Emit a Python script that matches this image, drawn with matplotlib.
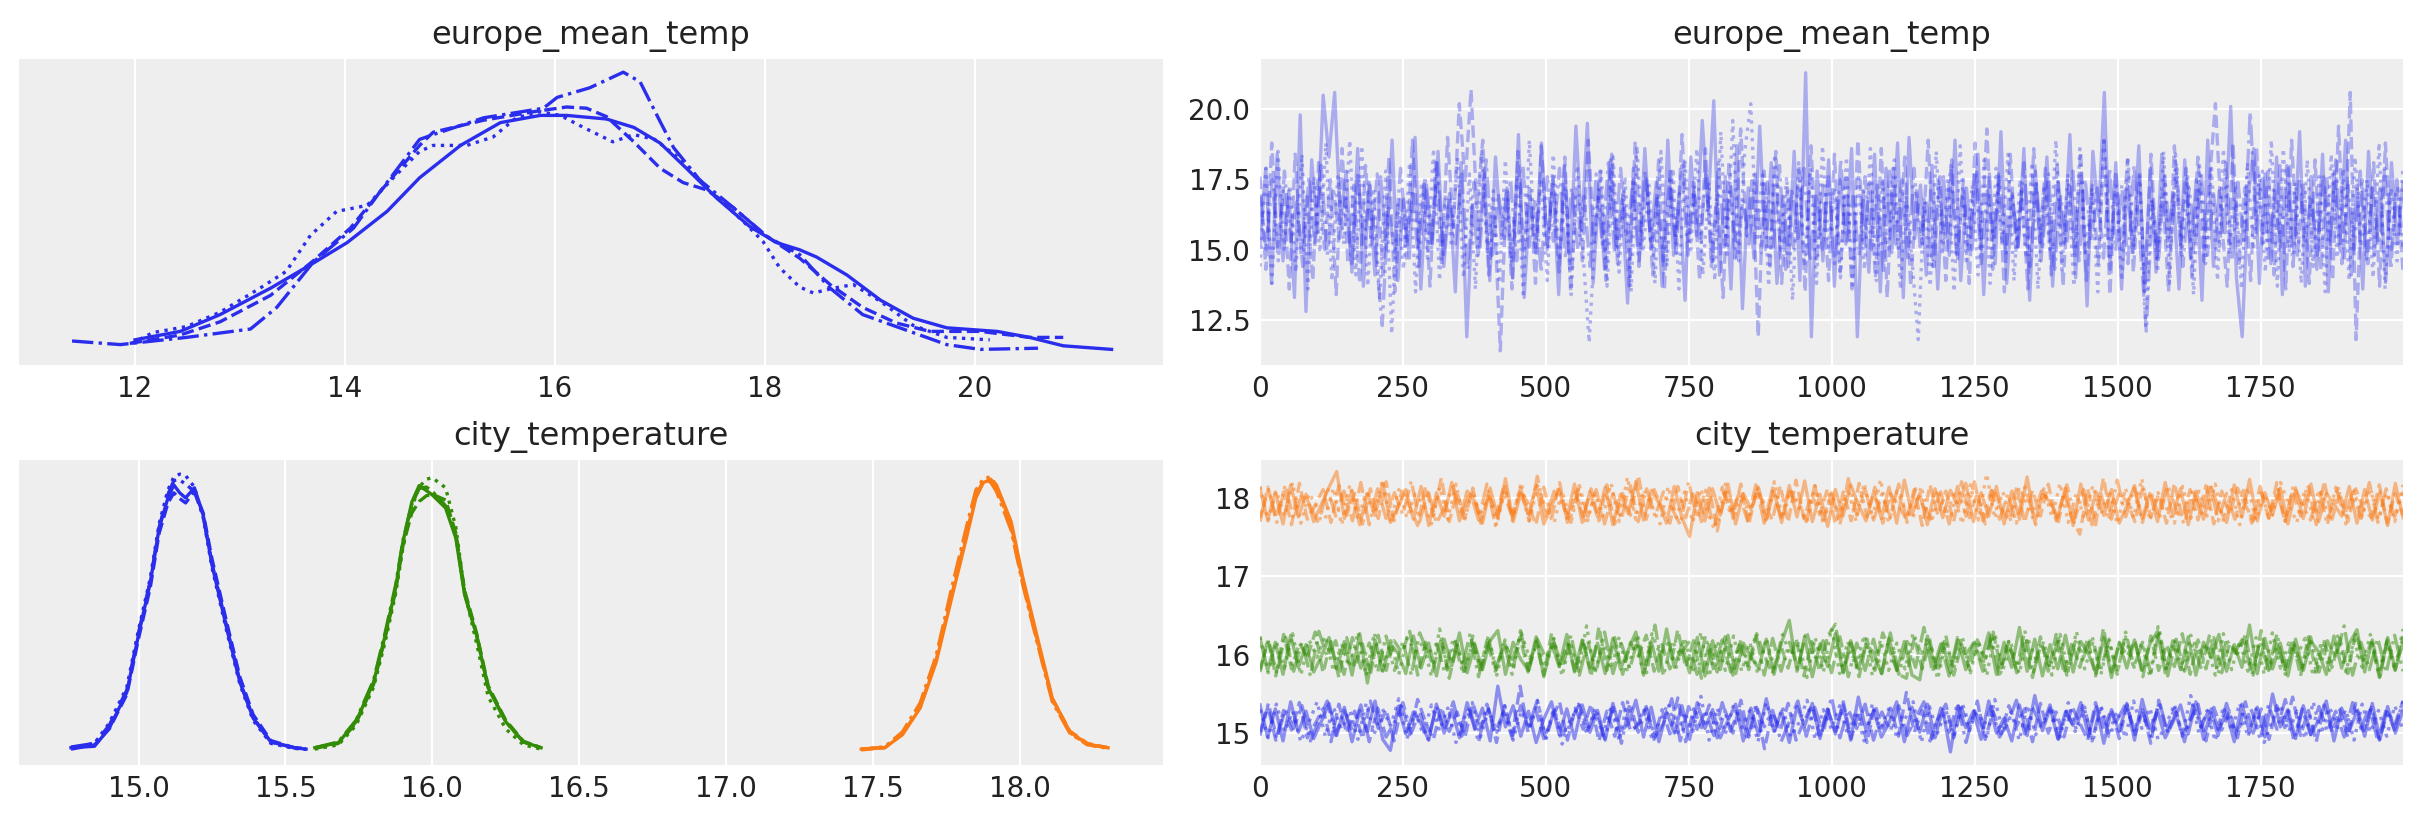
import numpy as np
import matplotlib
matplotlib.use("Agg")
import matplotlib.pyplot as plt

# ---------------- data ----------------
var_titles = ["europe_mean_temp", "city_temperature"]
chain_styles = ["-", "--", ":", "-."]
city_colors = ["#2a2eec", "#fa7c17", "#328c06"]   # city 0 / 1 / 2
eu_color = "#2a2eec"

# europe_mean_temp KDE per chain (value, density)
eu_kde_x0 = [12.0, 12.43, 12.81, 13.29, 13.70, 14.02, 14.40, 14.71, 15.10, 15.48, 15.86, 16.11, 16.49, 16.75, 17.0,
             17.25, 17.54, 17.86, 18.11, 18.33, 18.49, 18.78, 19.10, 19.41, 19.73, 20.21, 20.52, 20.84, 21.30]
eu_kde_y0 = [0.021, 0.028, 0.042, 0.064, 0.085, 0.102, 0.128, 0.156, 0.183, 0.202, 0.208, 0.208, 0.205, 0.198, 0.185,
             0.164, 0.139, 0.115, 0.102, 0.096, 0.090, 0.075, 0.054, 0.039, 0.031, 0.028, 0.023, 0.016, 0.013]
eu_kde_x1 = [11.95, 12.43, 12.81, 13.29, 13.70, 14.05, 14.33, 14.71, 14.84, 15.32, 15.79, 16.11, 16.30, 16.49, 16.75,
             17.0, 17.22, 17.44, 17.70, 18.02, 18.33, 18.62, 18.93, 19.25, 19.57, 20.05, 20.52, 20.84]
eu_kde_y1 = [0.018, 0.025, 0.036, 0.058, 0.087, 0.114, 0.144, 0.183, 0.194, 0.204, 0.211, 0.215, 0.214, 0.207, 0.186,
             0.164, 0.152, 0.146, 0.131, 0.107, 0.089, 0.067, 0.048, 0.035, 0.028, 0.028, 0.023, 0.023]
eu_kde_x2 = [11.97, 12.17, 12.49, 12.81, 13.19, 13.44, 13.67, 13.92, 14.21, 14.46, 14.71, 14.84, 15.16, 15.41, 15.63,
             15.86, 16.05, 16.27, 16.55, 16.75, 16.95, 17.2, 17.5, 17.8, 17.98, 18.14, 18.33, 18.46, 18.65, 18.84,
             19.1, 19.41, 19.73, 20.14]
eu_kde_y2 = [0.018, 0.027, 0.032, 0.044, 0.064, 0.078, 0.108, 0.128, 0.133, 0.156, 0.178, 0.183, 0.183, 0.190, 0.206,
             0.211, 0.208, 0.198, 0.186, 0.192, 0.188, 0.171, 0.143, 0.119, 0.103, 0.081, 0.065, 0.060, 0.064, 0.067,
             0.053, 0.033, 0.023, 0.021]
eu_kde_x3 = [11.40, 11.86, 12.49, 13.10, 13.35, 13.70, 14.08, 14.33, 14.71, 14.84, 15.32, 15.89, 16.02, 16.33, 16.65,
             16.81, 17.0, 17.13, 17.38, 17.70, 18.02, 18.33, 18.62, 18.93, 19.41, 19.73, 20.05, 20.60]
eu_kde_y3 = [0.020, 0.017, 0.023, 0.030, 0.048, 0.086, 0.114, 0.144, 0.188, 0.192, 0.206, 0.214, 0.223, 0.231, 0.244,
             0.236, 0.203, 0.181, 0.154, 0.131, 0.107, 0.092, 0.064, 0.042, 0.027, 0.017, 0.013, 0.014]

# city_temperature KDEs (value grid per city, density per chain)
city0_kde_x = [14.77, 14.85, 14.90, 14.96, 15.00, 15.04, 15.07, 15.10, 15.12, 15.14, 15.16, 15.19, 15.22, 15.25, 15.30,
               15.345, 15.39, 15.45, 15.53, 15.57]
city0_kde_c0 = [0.24, 0.26, 0.51, 1.01, 1.81, 2.54, 3.29, 3.71, 3.89, 3.78, 3.71, 3.85, 3.47, 2.78, 1.90, 1.15, 0.65, 0.32, 0.24, 0.22]
city0_kde_c1 = [0.22, 0.28, 0.50, 0.98, 1.76, 2.47, 3.22, 3.64, 3.78, 3.70, 3.64, 3.80, 3.50, 2.86, 1.98, 1.22, 0.70, 0.34, 0.24, 0.22]
city0_kde_c2 = [0.24, 0.30, 0.58, 1.08, 1.88, 2.60, 3.35, 3.82, 4.00, 4.04, 4.02, 3.86, 3.44, 2.74, 1.86, 1.12, 0.62, 0.30, 0.23, 0.22]
city0_kde_c3 = [0.25, 0.30, 0.55, 1.04, 1.84, 2.56, 3.30, 3.76, 3.95, 3.96, 3.90, 3.80, 3.45, 2.80, 1.92, 1.16, 0.66, 0.32, 0.24, 0.23]

city1_kde_x = [17.46, 17.54, 17.60, 17.66, 17.715, 17.77, 17.82, 17.85, 17.875, 17.90, 17.92, 17.97, 18.01, 18.06, 18.11,
               18.17, 18.23, 18.30]
city1_kde_c0 = [0.22, 0.24, 0.42, 0.79, 1.43, 2.36, 3.19, 3.71, 3.92, 3.97, 3.89, 3.38, 2.60, 1.76, 0.93, 0.46, 0.29, 0.24]
city1_kde_c1 = [0.21, 0.24, 0.43, 0.80, 1.46, 2.40, 3.25, 3.75, 3.94, 3.96, 3.86, 3.34, 2.55, 1.72, 0.92, 0.47, 0.30, 0.24]
city1_kde_c2 = [0.22, 0.25, 0.45, 0.84, 1.50, 2.45, 3.28, 3.78, 3.98, 4.00, 3.88, 3.30, 2.52, 1.70, 0.90, 0.45, 0.28, 0.23]
city1_kde_c3 = [0.22, 0.25, 0.46, 0.86, 1.52, 2.50, 3.34, 3.82, 3.96, 3.93, 3.80, 3.26, 2.50, 1.68, 0.88, 0.44, 0.28, 0.24]

city2_kde_x = [15.60, 15.68, 15.74, 15.80, 15.84, 15.875, 15.90, 15.93, 15.955, 15.98, 16.00, 16.045, 16.08, 16.11, 16.15,
               16.19, 16.25, 16.31, 16.37]
city2_kde_c0 = [0.24, 0.31, 0.60, 1.15, 1.81, 2.46, 3.10, 3.65, 3.88, 3.81, 3.75, 3.57, 3.15, 2.36, 1.81, 1.07, 0.60, 0.32, 0.24]
city2_kde_c1 = [0.23, 0.30, 0.58, 1.12, 1.78, 2.42, 3.05, 3.50, 3.66, 3.74, 3.76, 3.68, 3.22, 2.42, 1.84, 1.10, 0.62, 0.33, 0.24]
city2_kde_c2 = [0.22, 0.28, 0.55, 1.08, 1.72, 2.38, 3.02, 3.58, 3.86, 3.97, 3.99, 3.85, 3.30, 2.40, 1.70, 0.95, 0.50, 0.28, 0.22]
city2_kde_c3 = [0.24, 0.32, 0.62, 1.18, 1.85, 2.50, 3.12, 3.62, 3.84, 3.86, 3.80, 3.60, 3.18, 2.38, 1.82, 1.08, 0.60, 0.32, 0.24]

# europe_mean_temp traces (thinned draws: local highs / lows, 4 chains)
eu_trace_c0 = [
    15.2, 17.9, 13.8, 18.4, 14.6, 17.1, 13.3, 19.8, 12.8, 18.2, 15.6, 20.5, 18.3, 20.6, 15.9, 17.8, 14.2, 18.6, 13.7, 17.4,
    14.1, 17.6, 15.0, 18.9, 13.9, 16.8, 14.7, 19.0, 13.6, 17.3, 15.2, 18.5, 14.4, 17.0, 13.5, 18.1, 11.9, 16.6, 14.8, 17.7,
    13.9, 18.3, 15.4, 17.2, 14.0, 19.1, 13.3, 16.9, 14.9, 18.8, 15.1, 17.5, 13.4, 18.0, 14.5, 19.4, 15.7, 19.5, 13.8, 17.1,
    14.3, 18.2, 15.0, 16.8, 13.1, 17.9, 14.6, 18.6, 15.3, 17.4, 13.7, 18.9, 14.8, 17.0, 13.2, 18.3, 15.5, 19.6, 16.4, 20.3,
    14.1, 17.6, 13.6, 18.7, 12.9, 17.2, 14.7, 19.4, 15.0, 18.1, 13.8, 16.9, 14.4, 18.5, 13.9, 21.3, 11.9, 17.8, 14.6, 18.2,
    13.7, 17.5, 15.2, 18.6, 11.9, 17.1, 14.2, 18.4, 13.5, 17.9, 14.9, 18.8, 13.3, 19.0, 15.4, 17.3, 14.1, 18.0, 13.6, 17.6,
    14.8, 18.9, 13.9, 17.2, 15.0, 18.4, 13.4, 17.7, 14.5, 19.2, 13.8, 16.9, 15.1, 18.6, 13.2, 17.8, 14.6, 18.3, 13.7, 17.4,
    15.2, 19.1, 14.0, 17.6, 13.0, 18.5, 16.2, 20.6, 14.3, 18.1, 13.6, 17.3, 14.9, 18.7, 13.5, 17.9, 14.2, 18.4, 15.3, 17.0,
    13.6, 18.2, 14.7, 17.5, 13.2, 18.9, 14.4, 17.1, 15.6, 20.1, 14.0, 11.9, 16.8, 18.6, 13.8, 17.7, 14.5, 18.3, 13.4, 17.9,
    14.9, 19.2, 13.7, 17.6, 14.3, 18.4, 13.5, 17.8, 15.0, 18.9, 14.1, 17.3, 13.6, 18.5, 14.8, 17.2, 13.9, 18.1, 15.2, 17.4]
eu_trace_c1 = [
    17.6, 14.3, 18.8, 15.1, 17.2, 13.6, 18.4, 14.8, 16.9, 13.9, 18.1, 15.0, 17.5, 13.4, 18.6, 14.5, 17.3, 13.8, 18.0, 15.2,
    17.7, 14.0, 18.3, 13.5, 16.9, 14.7, 18.9, 15.1, 17.4, 13.7, 18.2, 14.4, 19.0, 15.8, 20.2, 17.4, 20.7, 16.5, 18.9, 14.1,
    16.2, 11.4, 17.0, 13.6, 18.5, 14.9, 17.3, 13.8, 18.7, 15.0, 17.6, 14.2, 18.3, 13.5, 17.1, 14.6, 18.9, 15.3, 17.8, 13.9,
    18.4, 14.5, 17.2, 13.7, 18.8, 15.0, 17.5, 14.1, 18.2, 13.6, 17.9, 14.8, 19.1, 15.2, 17.4, 13.9, 18.6, 14.4, 17.0, 13.3,
    18.1, 14.7, 19.3, 15.5, 17.6, 11.9, 17.8, 14.3, 18.5, 13.8, 17.2, 15.0, 18.0, 13.5, 18.7, 14.6, 17.3, 13.9, 18.4, 14.2,
    17.7, 13.6, 18.9, 15.1, 17.4, 14.0, 18.6, 13.3, 17.9, 14.8, 18.3, 13.7, 17.1, 15.2, 18.9, 14.4, 17.6, 13.9, 18.2, 14.6,
    17.5, 13.8, 18.8, 15.0, 19.3, 14.3, 17.7, 13.5, 18.4, 14.9, 17.2, 13.6, 18.6, 15.3, 17.9, 14.1, 18.1, 13.7, 17.4, 14.8,
    18.5, 13.9, 17.3, 14.5, 18.9, 13.4, 17.8, 15.0, 18.2, 14.2, 17.6, 13.8, 18.4, 14.7, 17.1, 13.5, 18.7, 15.1, 17.9, 14.0,
    18.3, 14.6, 17.5, 20.2, 16.1, 13.7, 18.8, 14.4, 17.2, 13.9, 18.6, 15.2, 17.8, 14.1, 18.0, 13.6, 18.9, 14.8, 17.4, 13.8,
    18.2, 14.3, 17.6, 13.9, 19.4, 14.7, 20.6, 11.8, 17.5, 14.5, 18.1, 13.7, 18.8, 15.0, 17.3, 14.2]
eu_trace_c2 = [
    14.4, 17.9, 13.8, 18.5, 15.0, 17.3, 14.2, 18.4, 13.6, 17.6, 14.9, 18.8, 13.9, 17.6, 15.2, 18.9, 14.1, 18.7, 13.7, 17.2,
    13.2, 17.8, 12.0, 16.6, 14.3, 18.1, 13.5, 17.4, 14.7, 18.6, 13.9, 17.0, 15.1, 18.3, 14.0, 17.7, 13.6, 18.5, 14.8, 17.1,
    13.8, 18.2, 14.5, 17.7, 13.3, 18.9, 15.0, 17.5, 13.9, 18.4, 14.6, 17.2, 13.4, 18.0, 14.8, 11.7, 15.6, 17.8, 13.7, 18.3,
    14.2, 17.6, 13.5, 18.7, 14.9, 17.3, 13.8, 18.5, 14.4, 17.9, 13.6, 18.2, 15.0, 18.6, 14.1, 17.4, 13.9, 19.2, 14.7, 19.6,
    14.6, 18.5, 20.2, 15.3, 17.8, 13.7, 18.4, 14.9, 17.6, 13.2, 18.1, 14.4, 17.9, 13.8, 18.7, 15.1, 17.2, 14.0, 18.3, 13.6,
    17.7, 14.3, 18.6, 13.9, 17.4, 15.0, 18.2, 13.6, 17.0, 14.5, 11.8, 16.9, 13.7, 18.5, 14.8, 17.6, 13.5, 18.7, 14.6, 17.3,
    14.1, 18.2, 13.8, 17.9, 15.2, 18.4, 13.9, 17.5, 14.7, 18.1, 13.6, 17.3, 15.0, 18.9, 14.3, 17.7, 13.7, 18.6, 14.9, 17.2,
    13.5, 19.0, 14.6, 17.4, 13.9, 18.3, 15.1, 17.8, 12.3, 16.8, 14.2, 18.5, 13.8, 18.4, 14.7, 17.6, 13.4, 18.0, 14.5, 17.9,
    13.9, 18.6, 14.8, 17.3, 13.6, 18.1, 15.0, 17.7, 14.2, 18.9, 13.7, 18.6, 14.9, 17.4, 13.8, 18.2, 14.4, 17.6, 13.5, 18.4,
    14.7, 17.9, 13.9, 18.3, 15.1, 17.5, 14.0, 18.8, 13.6, 17.2, 14.6, 18.0]
eu_trace_c3 = [
    16.9, 15.0, 17.5, 14.6, 17.8, 15.3, 16.7, 14.4, 17.6, 15.1, 18.0, 14.8, 17.2, 15.4, 16.8, 14.5, 17.7, 15.2, 17.3, 14.7,
    12.3, 16.6, 14.9, 17.9, 15.3, 17.1, 14.4, 17.6, 15.0, 18.1, 14.7, 16.9, 15.2, 17.7, 14.3, 17.4, 15.1, 18.2, 14.8, 17.0,
    15.4, 17.5, 14.6, 18.0, 15.1, 16.8, 14.2, 17.6, 15.3, 17.9, 14.7, 17.2, 15.0, 16.9, 14.4, 17.7, 15.2, 18.1, 14.9, 17.9,
    15.3, 17.4, 14.4, 17.8, 15.0, 16.9, 14.6, 17.5, 15.2, 18.0, 14.8, 17.1, 15.4, 17.7, 14.5, 18.1, 15.1, 17.3, 14.7, 16.8,
    15.2, 17.7, 14.9, 17.4, 15.1, 18.0, 14.3, 17.2, 15.4, 17.9, 14.6, 17.0, 15.0, 17.6, 14.5, 18.2, 15.3, 16.9, 14.8, 17.6,
    15.0, 17.3, 14.2, 17.8, 15.2, 17.5, 14.6, 17.9, 15.1, 16.8, 14.4, 17.4, 15.3, 18.0, 14.7, 17.2, 15.0, 17.8, 14.5, 17.1,
    15.4, 17.6, 14.8, 17.0, 15.1, 18.1, 14.4, 17.4, 15.0, 17.7, 14.3, 16.9, 15.2, 17.8, 14.6, 17.5, 15.3, 17.2, 14.7, 17.9,
    15.0, 17.3, 14.5, 18.0, 15.2, 12.1, 16.7, 14.6, 17.6, 15.1, 17.9, 14.4, 17.2, 15.3, 17.7, 14.8, 17.0, 15.0, 18.1, 14.6,
    17.4, 15.2, 19.9, 15.6, 17.8, 14.7, 17.1, 15.0, 18.0, 14.4, 17.5, 15.3, 16.9, 14.8, 17.7, 15.1, 18.2, 14.5, 17.3, 15.0,
    17.8, 14.6, 17.2, 15.2, 17.9, 14.3, 17.5, 15.1]

# city_temperature traces (thinned draws: local highs / lows): city 0 (blue)
city0_trace_c0 = [
    15.36, 14.95, 15.31, 14.90, 15.40, 15.01, 15.28, 14.93, 15.15, 15.38, 14.97, 15.33, 14.89, 15.29, 15.02,
    15.41, 14.92, 14.78, 15.34, 14.99, 15.27, 15.12, 14.91, 15.37, 15.00, 15.30, 14.94, 15.39, 15.05, 15.32,
    14.90, 15.60, 15.08, 15.35, 14.96, 15.28, 14.88, 15.18, 15.40, 14.98, 15.31, 14.93, 15.36, 15.01, 15.29,
    14.91, 15.38, 15.03, 15.11, 15.42, 14.95, 15.33, 14.89, 15.27, 15.00, 15.35, 14.92, 15.39, 15.06, 15.30,
    14.94, 15.16, 15.37, 14.90, 15.32, 14.97, 15.44, 15.02, 15.28, 14.88, 15.34, 15.09, 15.38, 14.93, 15.31,
    14.99, 15.36, 14.91, 15.46, 15.04, 15.29, 14.95, 15.13, 15.40, 14.89, 15.33, 15.01, 15.37, 14.94, 15.30,
    14.76, 15.35, 15.07, 15.28, 14.92, 15.41, 15.00, 15.19, 14.90, 15.36, 14.97, 15.48, 15.03, 15.32, 14.93,
    15.27, 15.10, 15.39, 14.96, 15.34, 14.87, 15.30, 15.02, 15.38, 14.91, 15.43, 15.05, 15.29, 14.94, 15.14,
    15.36, 14.99, 15.40, 14.92, 15.31, 15.04, 15.27, 14.89, 15.37, 15.01, 15.33, 14.95, 15.50, 15.08, 15.30,
    14.93, 15.35, 14.98, 15.17, 15.41, 14.90, 15.32, 15.03, 15.28, 14.96, 15.38, 14.92, 15.34, 15.00, 15.29]
city0_trace_c1 = [
    14.97, 15.34, 14.91, 15.29, 15.04, 15.39, 14.94, 15.12, 15.31, 14.89, 15.37, 15.00, 15.28, 14.93, 15.41,
    15.06, 15.30, 14.90, 15.36, 14.98, 15.43, 15.14, 14.92, 15.33, 15.02, 15.27, 14.95, 15.38, 15.08, 15.31,
    14.88, 15.35, 14.97, 15.60, 15.01, 15.29, 14.93, 15.17, 15.40, 14.91, 15.32, 15.05, 15.37, 14.90, 15.28,
    14.96, 15.39, 15.03, 15.11, 15.34, 14.92, 15.30, 14.99, 15.45, 14.89, 15.31, 15.07, 15.36, 14.94, 15.29,
    15.00, 15.42, 14.95, 15.33, 14.80, 15.27, 15.04, 15.38, 14.91, 15.15, 15.35, 14.97, 15.30, 15.02, 15.40,
    14.93, 15.28, 14.88, 15.36, 15.06, 15.32, 14.96, 15.52, 15.01, 15.29, 14.90, 15.18, 15.37, 14.94, 15.33,
    15.03, 15.41, 14.92, 15.28, 14.99, 15.35, 15.09, 15.31, 14.89, 15.38, 15.00, 15.27, 14.95, 15.34, 15.13,
    14.91, 15.39, 15.05, 15.30, 14.93, 15.36, 14.98, 15.29, 14.87, 15.42, 15.02, 15.32, 14.96, 15.16, 15.37,
    14.90, 15.33, 15.04, 15.28, 14.94, 15.40, 15.00, 15.31, 14.92, 15.35, 15.07, 15.46, 14.97, 15.29, 14.89,
    15.36, 15.01, 15.30, 14.95, 15.38, 15.03, 15.33, 14.91, 15.27, 15.12, 15.41]
city0_trace_c2 = [
    15.30, 14.94, 15.37, 15.02, 15.28, 14.89, 15.14, 15.40, 14.96, 15.33, 15.05, 15.29, 14.92, 15.38, 14.99,
    15.31, 15.09, 15.44, 14.93, 15.27, 14.98, 15.36, 15.03, 15.32, 14.88, 15.19, 15.39, 14.95, 15.30, 15.01,
    15.35, 14.91, 15.28, 15.06, 15.41, 14.94, 15.33, 14.86, 15.12, 15.37, 15.00, 15.29, 14.97, 15.34, 14.90,
    15.40, 15.04, 15.31, 14.93, 15.16, 15.38, 14.96, 15.27, 15.02, 15.47, 14.91, 15.32, 14.99, 15.36, 15.07,
    15.29, 14.89, 15.39, 15.01, 15.33, 14.95, 15.13, 15.42, 14.92, 15.30, 15.05, 15.35, 14.97, 15.28, 14.90,
    15.37, 15.03, 15.31, 14.94, 15.18, 15.40, 14.88, 15.34, 15.00, 15.29, 14.96, 15.38, 15.08, 15.32, 14.93,
    15.43, 15.02, 15.27, 14.91, 15.36, 14.98, 15.15, 15.33, 14.95, 15.39, 15.04, 15.30, 14.89, 15.35, 15.01,
    15.28, 14.94, 15.41, 15.06, 15.32, 14.92, 15.11, 15.37, 14.97, 15.48, 15.00, 15.29, 14.90, 15.34, 15.03,
    15.38, 14.95, 15.31, 14.88, 15.17, 15.36, 15.02, 15.28, 14.93, 15.40, 14.99, 15.33, 15.07, 15.30, 14.91,
    15.37, 15.01, 15.29, 14.96, 15.35, 15.04]
city0_trace_c3 = [
    15.01, 15.38, 14.93, 15.30, 15.06, 15.35, 14.90, 15.16, 15.41, 14.97, 15.29, 15.03, 15.36, 14.89, 15.32,
    14.95, 15.14, 15.39, 15.00, 15.28, 14.92, 15.34, 15.07, 15.40, 14.96, 15.31, 14.88, 15.37, 15.02, 15.27,
    14.94, 15.35, 15.09, 15.42, 14.91, 15.30, 14.98, 15.18, 15.36, 15.04, 15.29, 14.93, 15.33, 14.87, 15.38,
    15.01, 15.31, 14.95, 15.12, 15.44, 14.90, 15.34, 15.05, 15.28, 14.97, 15.39, 15.02, 15.32, 14.92, 15.36,
    15.08, 15.29, 14.89, 15.15, 15.41, 14.96, 15.33, 15.00, 15.46, 14.94, 15.30, 15.06, 15.37, 14.91, 15.27,
    15.03, 15.35, 14.97, 15.19, 15.40, 14.93, 15.32, 15.01, 15.38, 14.88, 15.29, 15.05, 15.34, 14.95, 15.13,
    15.42, 14.99, 15.31, 15.07, 15.36, 14.92, 15.28, 15.02, 15.39, 14.90, 15.33, 14.96, 15.17, 15.37, 15.04,
    15.30, 14.94, 15.41, 15.00, 15.27, 14.89, 15.35, 15.08, 15.32, 14.97, 15.38, 15.01, 15.14, 15.29, 14.93,
    15.36, 15.05, 15.43, 14.91, 15.31, 14.98, 15.34, 15.02, 15.28, 14.95, 15.39, 15.06, 15.33, 14.90, 15.30,
    15.04, 15.41]

# city 1 (orange)
city1_trace_c0 = [
    18.12, 17.72, 18.08, 17.67, 18.17, 17.76, 18.05, 17.70, 17.92, 18.14, 18.34, 17.74, 18.10, 17.66, 18.06,
    17.78, 18.19, 17.69, 17.88, 18.11, 17.73, 18.15, 17.65, 18.07, 17.77, 18.20, 17.71, 18.09, 17.96, 17.68,
    18.13, 17.75, 18.25, 17.70, 18.06, 17.79, 18.16, 17.67, 17.90, 18.11, 17.74, 18.18, 17.69, 18.08, 17.76,
    18.14, 17.66, 18.05, 17.80, 18.21, 17.72, 18.10, 17.94, 17.68, 18.15, 17.75, 17.51, 18.07, 17.71, 18.12,
    17.78, 18.18, 17.67, 18.06, 17.86, 18.13, 17.73, 18.09, 17.69, 18.16, 17.76, 18.22, 17.70, 18.05, 17.64,
    18.11, 17.77, 18.17, 17.92, 17.71, 18.08, 17.74, 18.14, 17.68, 18.23, 17.79, 18.06, 17.66, 18.12, 17.75,
    18.10, 17.88, 18.19, 17.70, 18.07, 17.77, 18.15, 17.67, 18.09, 17.73, 18.27, 17.69, 18.05, 17.95, 17.76,
    18.13, 17.65, 18.18, 17.72, 18.08, 17.78, 18.11, 17.68, 17.90, 18.16, 17.74, 18.06, 17.70, 18.20, 17.77,
    18.12, 17.66, 18.09, 17.73, 18.14, 17.87, 17.69, 18.17, 17.76, 18.24, 17.71, 18.07, 17.79, 18.13, 17.67,
    18.10, 17.74, 18.18, 17.70, 18.06, 17.93, 17.77, 18.15, 17.68, 18.11, 17.72, 18.08, 17.65, 18.19, 17.75]
city1_trace_c1 = [
    17.70, 18.14, 17.76, 18.08, 17.66, 18.19, 17.73, 17.91, 18.11, 17.69, 18.16, 17.78, 18.06, 17.67, 18.12,
    17.74, 18.21, 17.71, 18.09, 17.89, 17.65, 18.15, 17.77, 18.26, 17.70, 18.07, 17.75, 18.13, 17.68, 18.05,
    17.79, 18.18, 17.72, 18.10, 17.94, 17.66, 18.14, 17.74, 18.20, 17.69, 18.08, 17.76, 18.12, 17.71, 18.17,
    17.67, 18.06, 17.78, 18.29, 17.73, 18.11, 17.87, 17.68, 18.15, 17.75, 18.09, 17.70, 18.13, 17.58, 18.07,
    17.77, 18.18, 17.66, 18.10, 17.92, 17.72, 18.16, 17.69, 18.23, 17.74, 18.05, 17.79, 18.12, 17.67, 18.08,
    17.71, 18.19, 17.76, 18.14, 17.68, 18.06, 17.90, 17.73, 18.11, 17.65, 18.17, 17.78, 18.09, 17.70, 18.21,
    17.75, 18.07, 17.67, 18.13, 17.88, 17.72, 18.15, 17.69, 18.10, 17.77, 18.18, 17.71, 18.06, 17.74, 17.54,
    18.12, 17.66, 18.26, 17.73, 18.08, 17.95, 17.70, 18.14, 17.76, 18.05, 17.68, 18.19, 17.75, 18.11, 17.72,
    18.16, 17.67, 18.09, 17.79, 18.13, 17.91, 17.71, 18.07, 17.74, 18.20, 17.69, 18.10, 17.77, 18.15, 17.66,
    18.22, 17.73, 18.08, 17.70, 18.12, 17.86, 17.75, 18.17, 17.68, 18.06, 17.78]
city1_trace_c2 = [
    18.15, 17.71, 18.09, 17.77, 18.20, 17.68, 18.06, 17.89, 17.74, 18.13, 17.66, 18.17, 17.72, 18.08, 17.79,
    18.23, 17.70, 18.11, 17.75, 18.05, 17.93, 17.67, 18.14, 17.73, 18.18, 17.69, 18.10, 17.76, 18.07, 17.65,
    18.12, 17.78, 18.20, 17.71, 18.16, 17.87, 17.68, 18.09, 17.74, 18.13, 17.66, 18.06, 17.77, 18.19, 17.70,
    18.27, 17.73, 18.11, 17.90, 17.67, 18.15, 17.75, 18.08, 17.69, 18.12, 17.76, 17.65, 18.18, 17.72, 18.06,
    17.79, 18.14, 17.68, 18.21, 17.74, 18.10, 17.94, 17.70, 18.16, 17.66, 18.07, 17.77, 18.13, 17.71, 18.19,
    17.73, 18.24, 17.68, 18.09, 17.86, 17.75, 18.15, 17.69, 18.11, 17.78, 18.05, 17.67, 18.17, 17.72, 18.31,
    17.74, 18.08, 17.70, 18.14, 17.91, 17.66, 18.12, 17.76, 18.19, 17.69, 18.06, 17.73, 18.16, 17.79, 18.10,
    17.67, 18.13, 17.75, 18.25, 17.71, 18.07, 17.88, 17.68, 18.15, 17.74, 18.09, 17.77, 18.18, 17.70, 18.11,
    17.66, 18.14, 17.72, 18.06, 17.78, 18.20, 17.92, 17.69, 18.12, 17.75, 18.08, 17.71, 18.16, 17.67, 18.10,
    17.76, 18.13, 17.73, 18.07, 17.70, 18.17]
city1_trace_c3 = [
    17.75, 18.11, 17.69, 18.17, 17.73, 18.06, 17.90, 17.67, 18.14, 17.77, 18.09, 17.71, 18.20, 17.66, 18.12,
    17.74, 18.07, 17.79, 18.22, 17.70, 18.10, 17.68, 17.89, 18.15, 17.76, 18.08, 17.72, 18.18, 17.65, 18.05,
    17.78, 18.13, 17.71, 18.28, 17.74, 18.09, 17.93, 17.69, 18.16, 17.76, 18.11, 17.67, 18.06, 17.73, 18.19,
    17.70, 18.12, 17.77, 18.08, 17.87, 17.66, 18.21, 17.74, 18.10, 17.60, 18.14, 17.79, 18.06, 17.71, 18.17,
    17.68, 18.13, 17.75, 18.09, 17.91, 17.70, 18.16, 17.73, 18.07, 17.66, 18.25, 17.78, 18.11, 17.72, 18.05,
    17.76, 18.18, 17.69, 18.12, 17.88, 17.74, 18.08, 17.67, 18.15, 17.77, 18.21, 17.71, 18.10, 17.73, 18.06,
    17.68, 18.14, 17.79, 18.09, 17.94, 17.70, 18.17, 17.75, 18.11, 17.66, 18.07, 17.72, 18.23, 17.76, 18.13,
    17.69, 18.08, 17.74, 18.16, 17.86, 17.67, 18.12, 17.77, 18.19, 17.71, 18.06, 17.73, 18.10, 17.68, 18.15,
    17.75, 18.09, 17.70, 18.18, 17.92, 17.72, 18.11, 17.66, 18.14, 17.78, 18.07, 17.74, 18.20, 17.69, 18.12,
    17.76, 18.08]

# city 2 (green)
city2_trace_c0 = [
    16.21, 15.80, 16.16, 15.75, 16.25, 15.84, 16.13, 15.78, 15.98, 16.22, 15.82, 16.17, 15.74, 16.27, 15.64,
    16.19, 15.79, 16.14, 16.02, 15.76, 16.24, 15.83, 16.15, 15.73, 16.20, 15.86, 16.28, 15.77, 16.13, 15.81,
    16.18, 16.31, 15.75, 16.16, 15.94, 15.80, 16.23, 15.72, 16.14, 15.85, 16.26, 15.78, 16.19, 15.83, 16.15,
    15.76, 16.21, 15.82, 16.06, 16.29, 15.74, 16.17, 15.79, 16.33, 15.84, 16.13, 15.77, 16.22, 15.73, 16.18,
    15.81, 16.25, 15.76, 16.15, 15.97, 15.83, 16.20, 15.75, 16.16, 16.44, 15.79, 16.23, 15.72, 16.14, 15.85,
    16.27, 15.78, 16.18, 15.82, 16.13, 16.03, 15.76, 16.21, 15.80, 16.17, 15.74, 15.68, 16.24, 15.83, 16.15,
    15.77, 16.19, 15.81, 16.14, 15.93, 16.28, 15.75, 16.16, 15.84, 16.35, 15.79, 16.20, 15.73, 16.13, 15.82,
    16.25, 15.78, 16.17, 16.01, 15.76, 16.22, 15.71, 16.15, 15.83, 16.19, 15.80, 16.14, 16.30, 15.77, 16.18,
    15.81, 16.23, 15.74, 16.16, 15.96, 16.26, 15.79, 16.13, 15.84, 16.38, 15.76, 16.21, 15.82, 16.15, 15.73,
    16.20, 15.80, 16.17, 16.04, 15.75, 16.24, 15.83, 16.14, 16.32, 15.78, 16.19, 15.72, 16.22, 15.81, 16.16]
city2_trace_c1 = [
    15.78, 16.20, 15.73, 16.26, 15.82, 16.15, 15.96, 16.29, 15.77, 16.17, 15.71, 16.22, 15.84, 16.14, 15.75,
    16.25, 15.80, 16.18, 16.03, 16.30, 15.74, 16.16, 15.83, 16.21, 15.70, 16.13, 15.79, 16.24, 15.76, 16.19,
    15.81, 16.15, 15.94, 16.23, 15.78, 16.17, 15.74, 16.28, 15.85, 16.14, 15.77, 16.20, 15.72, 16.36, 15.80,
    16.22, 15.75, 16.16, 15.98, 16.25, 15.79, 16.13, 15.82, 16.32, 15.84, 16.18, 15.70, 16.15, 15.78, 16.23,
    15.74, 16.19, 15.81, 16.27, 15.99, 15.76, 16.14, 15.83, 16.21, 15.73, 16.17, 15.79, 16.24, 16.39, 15.77,
    16.15, 15.72, 16.20, 15.80, 16.28, 16.02, 15.75, 15.70, 16.22, 15.82, 16.16, 15.78, 16.25, 15.74, 16.13,
    15.81, 16.19, 15.95, 16.29, 15.83, 16.17, 15.77, 16.14, 15.71, 16.23, 15.79, 16.26, 15.76, 16.15, 15.84,
    16.21, 15.73, 16.34, 15.78, 16.16, 15.98, 16.18, 15.72, 16.24, 15.80, 16.13, 15.85, 16.27, 15.75, 16.19,
    15.82, 16.22, 15.77, 16.15, 16.01, 16.25, 15.74, 16.31, 15.79, 16.14, 15.81, 16.20, 15.73, 16.23, 15.78,
    16.17, 15.84, 16.21, 15.76, 16.28, 15.93, 16.16, 15.71, 16.19, 15.80, 16.24]
city2_trace_c2 = [
    16.23, 15.77, 16.17, 15.83, 16.27, 15.74, 16.19, 15.97, 16.24, 15.79, 16.14, 15.84, 16.29, 15.73, 16.28,
    15.78, 16.18, 15.75, 16.22, 16.04, 16.16, 15.72, 16.33, 15.80, 16.20, 15.76, 16.15, 15.85, 16.25, 15.74,
    16.19, 15.81, 16.28, 15.96, 16.14, 15.83, 16.21, 15.73, 16.17, 15.79, 16.37, 15.76, 16.16, 15.82, 16.23,
    15.78, 16.20, 15.74, 16.27, 16.01, 16.15, 15.84, 16.22, 15.77, 16.29, 15.72, 16.18, 15.80, 16.24, 15.79,
    16.16, 15.75, 16.21, 15.83, 16.26, 15.99, 16.14, 15.71, 16.22, 15.78, 16.34, 15.76, 16.17, 15.84, 16.25,
    15.74, 16.19, 15.80, 16.15, 15.82, 16.28, 16.02, 16.21, 15.69, 16.16, 15.83, 16.24, 15.77, 16.18, 15.73,
    16.27, 15.81, 16.14, 15.76, 16.22, 15.95, 16.17, 15.74, 16.26, 15.79, 16.30, 15.82, 16.15, 15.75, 16.20,
    15.78, 16.23, 15.84, 16.16, 15.72, 16.36, 15.80, 16.19, 15.77, 16.25, 16.03, 16.14, 15.74, 16.27, 15.81,
    16.18, 15.79, 16.22, 15.75, 16.28, 15.83, 16.15, 15.98, 16.21, 15.73, 16.17, 15.80, 16.24, 15.78, 16.19,
    15.84, 16.26, 15.76, 16.16, 15.81, 16.33]
city2_trace_c3 = [
    15.81, 16.19, 15.76, 16.25, 15.79, 16.16, 15.73, 16.30, 15.97, 16.18, 15.75, 16.22, 15.83, 16.15, 15.78,
    16.24, 15.80, 16.17, 15.74, 16.28, 16.02, 16.14, 15.77, 16.21, 15.82, 16.27, 15.72, 16.18, 15.79, 16.16,
    15.75, 16.31, 15.81, 16.20, 15.96, 16.15, 15.84, 16.25, 15.74, 16.17, 15.78, 16.29, 15.76, 16.14, 15.82,
    16.22, 15.77, 16.38, 15.73, 16.18, 16.00, 16.16, 15.75, 16.24, 15.80, 16.19, 15.78, 16.13, 15.83, 16.27,
    15.74, 16.21, 15.79, 16.16, 15.82, 16.30, 15.95, 16.18, 15.77, 16.23, 15.72, 16.15, 15.80, 16.20, 15.76,
    16.28, 15.75, 16.17, 15.84, 16.35, 15.78, 16.14, 15.73, 16.22, 16.01, 16.16, 15.79, 16.25, 15.71, 16.19,
    15.81, 16.31, 15.76, 16.15, 15.83, 16.21, 15.74, 16.17, 15.97, 16.24, 15.80, 16.18, 15.75, 16.29, 15.84,
    16.16, 15.77, 16.32, 15.73, 16.20, 15.79, 16.14, 15.82, 16.26, 15.76, 16.19, 16.03, 16.22, 15.74, 16.17,
    15.80, 16.27, 15.75, 16.15, 15.83, 16.23, 15.78, 16.18, 15.96, 16.37, 15.74, 16.16, 15.81, 16.21, 15.77,
    16.25, 15.79]

n_draws = 2000
kde_x_ticks_eu = [12, 14, 16, 18, 20]
kde_x_ticks_city = [15.0, 15.5, 16.0, 16.5, 17.0, 17.5, 18.0]
trace_x_ticks = [0, 250, 500, 750, 1000, 1250, 1500, 1750]
trace_y_ticks_eu = [12.5, 15.0, 17.5, 20.0]
trace_y_ticks_city = [15, 16, 17, 18]

# ---------------- figure ----------------
W, H = 2423, 823
DPI = 200
fig = plt.figure(figsize=(W / DPI, H / DPI), dpi=DPI)
fig.patch.set_facecolor("white")
TXT = "#222222"
LW = 1.2
ALPHA_TRACE = 0.35
ALPHA_CITY = 0.5


def add_axes(x0, y0, x1, y1):
    return fig.add_axes([x0 / W, 1 - y1 / H, (x1 - x0) / W, (y1 - y0) / H])


def style(ax, title, ygrid=True):
    ax.set_facecolor("#eeeeee")
    for s in ax.spines.values():
        s.set_visible(False)
    ax.set_axisbelow(True)
    ax.grid(True, axis="x", color="white", lw=0.8)
    if ygrid:
        ax.grid(True, axis="y", color="white", lw=0.8)
    ax.tick_params(length=0, labelsize=10, colors=TXT, pad=3.5)
    ax.set_title(title, fontsize=11.5, color=TXT, pad=5.5)


ax_k0 = add_axes(19, 59, 1163, 365)
ax_t0 = add_axes(1260, 59, 2403, 365)
ax_k1 = add_axes(19, 460, 1163, 765)
ax_t1 = add_axes(1260, 460, 2403, 765)

# europe KDE
eu_kx = [eu_kde_x0, eu_kde_x1, eu_kde_x2, eu_kde_x3]
eu_ky = [eu_kde_y0, eu_kde_y1, eu_kde_y2, eu_kde_y3]
for xs, ys, ls in zip(eu_kx, eu_ky, chain_styles):
    ax_k0.plot(xs, ys, color=eu_color, ls=ls, lw=LW)
style(ax_k0, var_titles[0], ygrid=False)
ax_k0.set_xlim(10.895, 21.79)
ax_k0.set_ylim(0.0, 0.255)
ax_k0.set_xticks(kde_x_ticks_eu)
ax_k0.set_yticks([])

# europe trace
eu_tr = [eu_trace_c0, eu_trace_c1, eu_trace_c2, eu_trace_c3]
for vals, ls in zip(eu_tr, chain_styles):
    d = np.linspace(0, n_draws - 1, len(vals))
    ax_t0.plot(d, vals, color=eu_color, ls=ls, lw=LW, alpha=ALPHA_TRACE)
style(ax_t0, var_titles[0])
ax_t0.set_xlim(0, n_draws - 1)
ax_t0.set_ylim(10.895, 21.79)
ax_t0.set_xticks(trace_x_ticks)
ax_t0.set_yticks(trace_y_ticks_eu)
ax_t0.set_yticklabels([f"{v:.1f}" for v in trace_y_ticks_eu])

# city KDE
city_kx = [city0_kde_x, city1_kde_x, city2_kde_x]
city_ky = [[city0_kde_c0, city0_kde_c1, city0_kde_c2, city0_kde_c3],
           [city1_kde_c0, city1_kde_c1, city1_kde_c2, city1_kde_c3],
           [city2_kde_c0, city2_kde_c1, city2_kde_c2, city2_kde_c3]]
for xs, chains, col in zip(city_kx, city_ky, city_colors):
    for ys, ls in zip(chains, chain_styles):
        ax_k1.plot(xs, ys, color=col, ls=ls, lw=LW)
style(ax_k1, var_titles[1], ygrid=False)
ax_k1.set_xlim(14.593, 18.487)
ax_k1.set_ylim(0.0, 4.236)
ax_k1.set_xticks(kde_x_ticks_city)
ax_k1.set_xticklabels([f"{v:.1f}" for v in kde_x_ticks_city])
ax_k1.set_yticks([])

# city trace
city_tr = [[city0_trace_c0, city0_trace_c1, city0_trace_c2, city0_trace_c3],
           [city1_trace_c0, city1_trace_c1, city1_trace_c2, city1_trace_c3],
           [city2_trace_c0, city2_trace_c1, city2_trace_c2, city2_trace_c3]]
for chains, col in zip(city_tr, city_colors):
    for vals, ls in zip(chains, chain_styles):
        d = np.linspace(0, n_draws - 1, len(vals))
        ax_t1.plot(d, vals, color=col, ls=ls, lw=LW, alpha=ALPHA_CITY)
style(ax_t1, var_titles[1])
ax_t1.set_xlim(0, n_draws - 1)
ax_t1.set_ylim(14.593, 18.487)
ax_t1.set_xticks(trace_x_ticks)
ax_t1.set_yticks(trace_y_ticks_city)

fig.savefig("out.png", dpi=DPI)
